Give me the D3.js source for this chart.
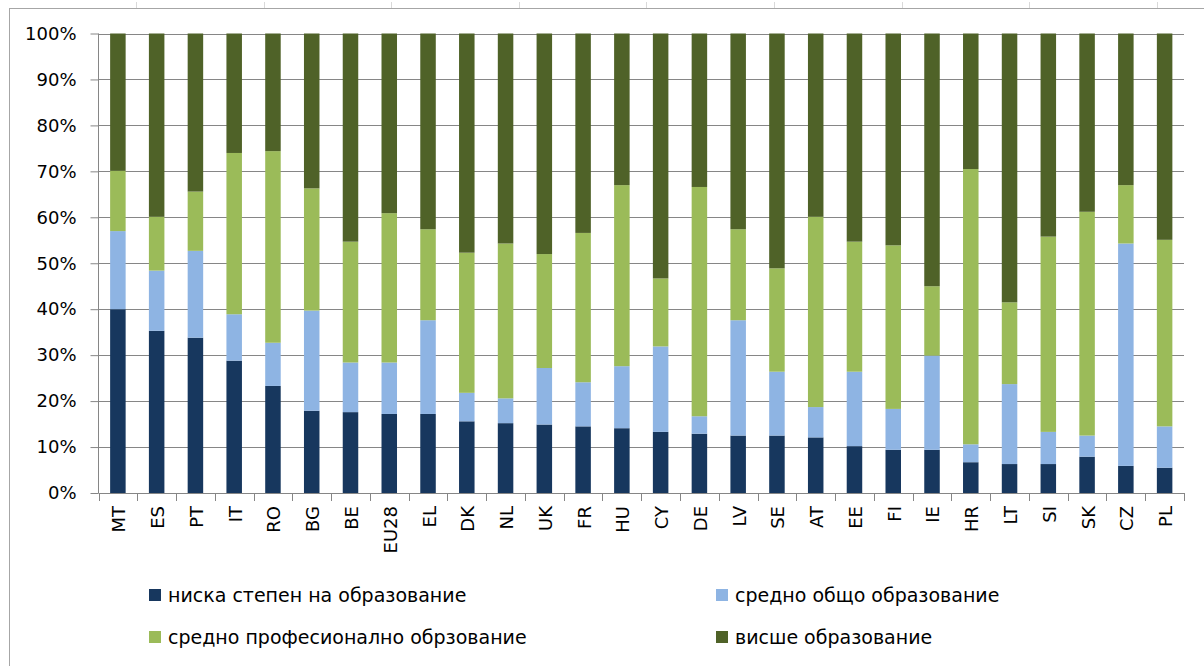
<!DOCTYPE html>
<html>
<head>
<meta charset="utf-8">
<script src="https://cdn.jsdelivr.net/npm/d3@7"></script>
<style>
  body { margin: 0; background: #fff; }
  text { font-family: "DejaVu Sans", Verdana, sans-serif; fill: #000; }
</style>
</head>
<body>
<div class="main"></div>
<script>

const categories = ["MT", "ES", "PT", "IT", "RO", "BG", "BE", "EU28", "EL", "DK", "NL", "UK", "FR", "HU",
    "CY", "DE", "LV", "SE", "AT", "EE", "FI", "IE", "HR", "LT", "SI", "SK", "CZ", "PL"]

const low = [40.0, 35.3, 33.8, 28.8, 23.3, 17.9, 17.6, 17.2, 17.2, 15.6, 15.2, 14.9, 14.5, 14.1,
    13.3, 12.9, 12.5, 12.5, 12.1, 10.2, 9.4, 9.4, 6.7, 6.3, 6.3, 7.9, 5.9, 5.5]
const general = [17.0, 13.1, 18.9, 10.1, 9.4, 21.8, 10.8, 11.2, 20.4, 6.2, 5.4, 12.3, 9.6, 13.5,
    18.6, 3.8, 25.1, 13.9, 6.6, 16.2, 8.9, 20.5, 3.9, 17.4, 7.0, 4.6, 48.4, 9.0]
const vocational = [13.1, 11.7, 12.9, 35.1, 41.7, 26.6, 26.3, 32.5, 19.8, 30.5, 33.7, 24.8, 32.5, 39.4,
    14.8, 49.9, 19.8, 22.5, 41.4, 28.3, 35.6, 15.1, 59.9, 17.8, 42.5, 48.7, 12.7, 40.6]
const higher = [29.9, 39.9, 34.4, 26.0, 25.6, 33.7, 45.3, 39.1, 42.6, 47.7, 45.7, 48.0, 43.4, 33.0,
    53.3, 33.4, 42.6, 51.1, 39.9, 45.3, 46.1, 55.0, 29.5, 58.5, 44.2, 38.8, 33.0, 44.9]

const seriesNames = ["ниска степен на образование", "средно общо образование",
    "средно професионално обрзование", "висше образование"]
const yTicks = [0, 10, 20, 30, 40, 50, 60, 70, 80, 90, 100]

const colors = ["#17375E", "#8EB4E3", "#9BBB59", "#4F6228"]


////////////
// CANVAS //
////////////

const w = 1204
const h = 666
const padding = { top: 33.5, right: 20, bottom: 173, left: 98.5 }

const svg = d3.select(".main")
    .append("svg")
    .attr("width", w)
    .attr("height", h)

// chart frame (runs off the right and bottom edge)
svg.append("rect")
    .attr("x", 9.5)
    .attr("y", 8.5)
    .attr("width", w + 20)
    .attr("height", h + 20)
    .attr("fill", "none")
    .attr("stroke", "#a6a6a6")

// faint ruler marks above the frame
d3.range(136, w, 127.6).forEach(x => {
    svg.append("line")
        .attr("x1", Math.round(x) + 0.5).attr("x2", Math.round(x) + 0.5)
        .attr("y1", 2).attr("y2", 8)
        .attr("stroke", "#d9d9d9")
})

const table = categories.map((c, i) => ({
    cat: c, s0: low[i], s1: general[i], s2: vocational[i], s3: higher[i]
}))

const stacked = d3.stack()
    .keys(["s0", "s1", "s2", "s3"])
    .offset(d3.stackOffsetExpand)(table)


////////////
// SCALES //
////////////

const xScale = d3.scaleBand()
    .domain(categories)
    .range([padding.left, 1184])
    .paddingInner(0.6)
    .paddingOuter(0.3)

const yScale = d3.scaleLinear()
    .domain([0, 100])
    .range([h - padding.bottom, padding.top])


//////////
// GRID //
//////////

svg.append("g")
    .selectAll("line")
    .data(yTicks.slice(1))
    .enter()
    .append("line")
    .attr("x1", padding.left)
    .attr("x2", 1184)
    .attr("y1", d => Math.round(yScale(d)) + 0.5)
    .attr("y2", d => Math.round(yScale(d)) + 0.5)
    .attr("stroke", "#868686")


//////////
// BARS //
//////////

svg.append("g")
    .selectAll("g")
    .data(stacked)
    .enter()
    .append("g")
    .attr("fill", (d, i) => colors[i])
    .selectAll("rect")
    .data(d => d)
    .enter()
    .append("rect")
    .attr("x", d => xScale(d.data.cat))
    .attr("width", xScale.bandwidth())
    .attr("y", d => yScale(d[1] * 100))
    .attr("height", d => yScale(d[0] * 100) - yScale(d[1] * 100))


///////////
// AXLES //
///////////

const yAxis = d3.axisLeft(yScale)
    .tickValues(yTicks)
    .tickFormat(d => d + "%")
    .tickSize(8)
    .tickPadding(14)

const yAxisDefined = svg.append("g")
    .attr("transform", `translate(${padding.left}, 0)`)
    .call(yAxis)

yAxisDefined.selectAll(".tick line").attr("stroke", "#868686")
yAxisDefined.select(".domain").attr("stroke", "#868686").attr("d", `M0,${yScale(0)}V${yScale(100)}`)
yAxisDefined.selectAll(".tick text").style("font-size", "18px").attr("fill", "#000")

// category boundary ticks below the x axis
const bounds = d3.range(categories.length + 1).map(i => padding.left + i * (1184 - padding.left) / categories.length)

const xAxisG = svg.append("g")
xAxisG.append("line")
    .attr("x1", padding.left).attr("x2", 1184)
    .attr("y1", Math.round(yScale(0)) + 0.5).attr("y2", Math.round(yScale(0)) + 0.5)
    .attr("stroke", "#868686")
xAxisG.selectAll(".xt")
    .data(bounds)
    .enter()
    .append("line")
    .attr("x1", d => Math.round(d) + 0.5).attr("x2", d => Math.round(d) + 0.5)
    .attr("y1", yScale(0)).attr("y2", yScale(0) + 8)
    .attr("stroke", "#868686")

xAxisG.selectAll(".xl")
    .data(categories)
    .enter()
    .append("text")
    .attr("transform", d => `translate(${xScale(d) + xScale.bandwidth() / 2 + 1}, ${yScale(0) + 13}) rotate(-90)`)
    .attr("text-anchor", "end")
    .attr("dy", "0.36em")
    .style("font-size", "18px")
    .text(d => d)


////////////
// LEGEND //
////////////

const legendPos = [[149, 595], [716, 595], [149, 637], [716, 637]]

const legend = svg.append("g")
    .selectAll("g")
    .data(seriesNames)
    .enter()
    .append("g")
    .attr("transform", (d, i) => `translate(${legendPos[i][0]}, ${legendPos[i][1]})`)

legend.append("rect")
    .attr("x", 0).attr("y", -6)
    .attr("width", 12).attr("height", 12)
    .attr("fill", (d, i) => colors[i])

legend.append("text")
    .attr("x", 19)
    .attr("dy", "0.36em")
    .style("font-size", "19px")
    .text(d => d)

</script>
</body>
</html>
